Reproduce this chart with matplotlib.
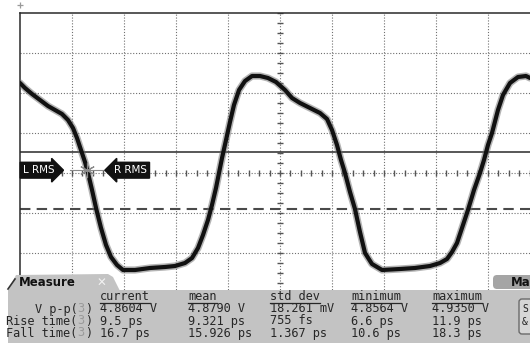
import matplotlib
matplotlib.use('Agg')
import matplotlib.pyplot as plt
from matplotlib.patches import Polygon, FancyBboxPatch, Rectangle

# Trace samples, in screen divisions (x: 0..10 across, y: -4..4 about centre)
trace_x = [0.0, 0.096, 0.231, 0.385, 0.538, 0.673, 0.808, 0.923, 1.019, 1.096,
           1.173, 1.25, 1.308, 1.385, 1.462, 1.558, 1.654, 1.75, 1.865, 1.981,
           2.212, 2.5, 2.788, 2.981, 3.173, 3.308, 3.423, 3.519, 3.615, 3.692,
           3.769, 3.827, 3.885, 3.962, 4.038, 4.115, 4.212, 4.327, 4.462, 4.615,
           4.769, 4.923, 5.096, 5.231, 5.385, 5.577, 5.769, 5.904, 6.0, 6.096,
           6.173, 6.25, 6.346, 6.442, 6.538, 6.635, 6.769, 6.962, 7.308, 7.596,
           7.885, 8.077, 8.212, 8.308, 8.404, 8.5, 8.615, 8.731, 8.846, 8.923,
           9.0, 9.077, 9.192, 9.288, 9.423, 9.577, 9.731, 9.808]
trace_y = [2.25, 2.125, 1.975, 1.825, 1.675, 1.575, 1.475, 1.325, 1.125, 0.875,
           0.575, 0.275, 0.0, -0.425, -0.875, -1.375, -1.8, -2.1, -2.3, -2.425,
           -2.425, -2.375, -2.35, -2.325, -2.25, -2.125, -1.875, -1.55, -1.175, -0.8,
           -0.375, 0.0, 0.375, 0.825, 1.275, 1.7, 2.075, 2.3, 2.425, 2.425,
           2.375, 2.275, 2.075, 1.875, 1.75, 1.625, 1.5, 1.35, 1.075, 0.7,
           0.325, 0.0, -0.475, -0.9, -1.475, -2.0, -2.275, -2.425, -2.4, -2.375,
           -2.325, -2.25, -2.15, -1.975, -1.75, -1.375, -0.925, -0.425, 0.0, 0.325,
           0.7, 1.0, 1.575, 1.95, 2.25, 2.4, 2.425, 2.375]

# reference levels
upper_level = 0.525
lower_level = -0.9

# measurement table
col_names = ['current', 'mean', 'std dev', 'minimum', 'maximum']
row_names = ['V p-p', 'Rise time', 'Fall time']
row_values = [
    ['4.8604 V', '4.8790 V', '18.261 mV', '4.8564 V', '4.9350 V'],
    ['9.5 ps', '9.321 ps', '755 fs', '6.6 ps', '11.9 ps'],
    ['16.7 ps', '15.926 ps', '1.367 ps', '10.6 ps', '18.3 ps'],
]
channel = '3'

W, H = 530, 343
fig = plt.figure(figsize=(W / 100, H / 100), dpi=100)
fig.patch.set_facecolor('white')

# ---- scope graticule ----
div_px_x, div_px_y = 52, 40
ax = fig.add_axes([20 / W, 10 / H, (W - 20) / W, 320 / H])
ax.set_xlim(0, (W - 20) / div_px_x)
ax.set_ylim(-4, 4)
ax.set_xticks([])
ax.set_yticks([])
for s in ('right', 'bottom'):
    ax.spines[s].set_visible(False)
for s in ('left', 'top'):
    ax.spines[s].set_color('#2a2a2a')
    ax.spines[s].set_linewidth(1.1)

dot = (0, (1, 1.6))
for gx in range(1, 10):
    ax.axvline(gx, color='#707070', lw=0.8, ls=dot, zorder=1)
for gy in range(-3, 4):
    ax.axhline(gy, color='#707070', lw=0.8, ls=dot, zorder=1)

# minor ticks on the centre cross
ax.plot([5] * 33, [-4 + 0.25 * i for i in range(33)], ls='none', marker='_',
        ms=5, mew=1.0, color='#555555', zorder=2)
ax.plot([0.2 * i for i in range(50)], [0] * 50, ls='none', marker='|',
        ms=5, mew=1.0, color='#555555', zorder=2)

ax.axhline(upper_level, color='#2a2a2a', lw=1.1, zorder=2)
ax.axhline(lower_level, color='#4a4a4a', lw=1.5, ls=(0, (5, 3)), zorder=2)

# waveform: grey halo under a dark core
ax.plot(trace_x, trace_y, color='#6a6a6a', lw=5.2, alpha=0.5,
        solid_joinstyle='round', solid_capstyle='round', zorder=3)
ax.plot(trace_x, trace_y, color='#111111', lw=3.0,
        solid_joinstyle='round', solid_capstyle='round', zorder=4)

# RMS cursors
ax.plot([0.96, 1.63], [0.07, 0.07], color='#8a8a8a', lw=0.8, zorder=5)
ax.plot([1.29], [0.07], marker=(6, 2, 0), ms=11, mew=0.8, color='#8a8a8a', zorder=5)
ax.text(0.06, 0.07, 'L RMS', color='white', fontsize=7.5, va='center', ha='left',
        family='DejaVu Sans', zorder=6,
        bbox=dict(boxstyle='rarrow,pad=0.28', fc='#111111', ec='#111111'))
ax.text(1.80, 0.07, 'R RMS', color='white', fontsize=7.5, va='center', ha='left',
        family='DejaVu Sans', zorder=6,
        bbox=dict(boxstyle='larrow,pad=0.28', fc='#111111', ec='#111111'))

# ---- measurement panel (pixel coordinates) ----
ov = fig.add_axes([0, 0, 1, 1], zorder=10)
ov.set_xlim(0, W)
ov.set_ylim(H, 0)
ov.axis('off')
ov.patch.set_alpha(0)

panel = '#c3c3c3'
ov.add_patch(Rectangle((8, 290), W, 60, fc=panel, ec='none'))
ov.add_patch(Polygon([(8, 291), (16, 275), (108, 274), (113, 277), (120, 291)],
                     closed=True, fc=panel, ec='none'))
ov.plot([8, 15], [289, 279], color='#333333', lw=1.2)
ov.text(19, 282, 'Measure', fontsize=8.5, fontweight='bold', va='center',
        ha='left', color='#111111', family='DejaVu Sans')
ov.text(101, 283, '\u2715', fontsize=8.5, va='center', ha='center',
        color='#f2f2f2', family='DejaVu Sans')

ov.add_patch(FancyBboxPatch((493, 275), 60, 14, boxstyle='round,pad=0,rounding_size=4',
                            fc='#a5a5a5', ec='none'))
ov.text(511, 282, 'Ma', fontsize=8.5, fontweight='bold', va='center', ha='left',
        color='#111111', family='DejaVu Sans')
ov.add_patch(FancyBboxPatch((519, 299), 30, 35, boxstyle='round,pad=0,rounding_size=3',
                            fc='#d6d6d6', ec='#6a6a6a', lw=1.0))
ov.text(522, 309, 'S', fontsize=7, va='center', ha='left', color='#222222',
        family='DejaVu Sans Mono')
ov.text(522, 322, '&', fontsize=7, va='center', ha='left', color='#222222',
        family='DejaVu Sans Mono')

mono = 'DejaVu Sans Mono'
fs = 8.6
cw = 0.602 * fs * 100 / 72
txt_col = '#262626'
col_x = [100, 188, 270, 351, 432]
head_y = 297
row_y = [309, 321, 333]
label_right = 92

for cx, name in zip(col_x, col_names):
    ov.text(cx, head_y, name, fontsize=fs, family=mono, color=txt_col,
            va='center', ha='left')
    ov.plot([cx, cx + cw * len(name)], [head_y + 6, head_y + 6],
            color=txt_col, lw=0.9)

for ry, name, vals in zip(row_y, row_names, row_values):
    ov.text(label_right, ry, ')', fontsize=fs, family=mono, color=txt_col,
            va='center', ha='right')
    ov.text(label_right - cw, ry, channel, fontsize=fs, family=mono,
            color='#9a9a9a', va='center', ha='right')
    ov.text(label_right - 2 * cw, ry, name + '(', fontsize=fs, family=mono,
            color=txt_col, va='center', ha='right')
    for cx, v in zip(col_x, vals):
        ov.text(cx, ry, v, fontsize=fs, family=mono, color=txt_col,
                va='center', ha='left')

# scope ground marker
ov.plot([20], [5], marker='+', ms=5, mew=0.9, color='#9a9a9a')

fig.savefig('out.png', dpi=100, facecolor='white')
